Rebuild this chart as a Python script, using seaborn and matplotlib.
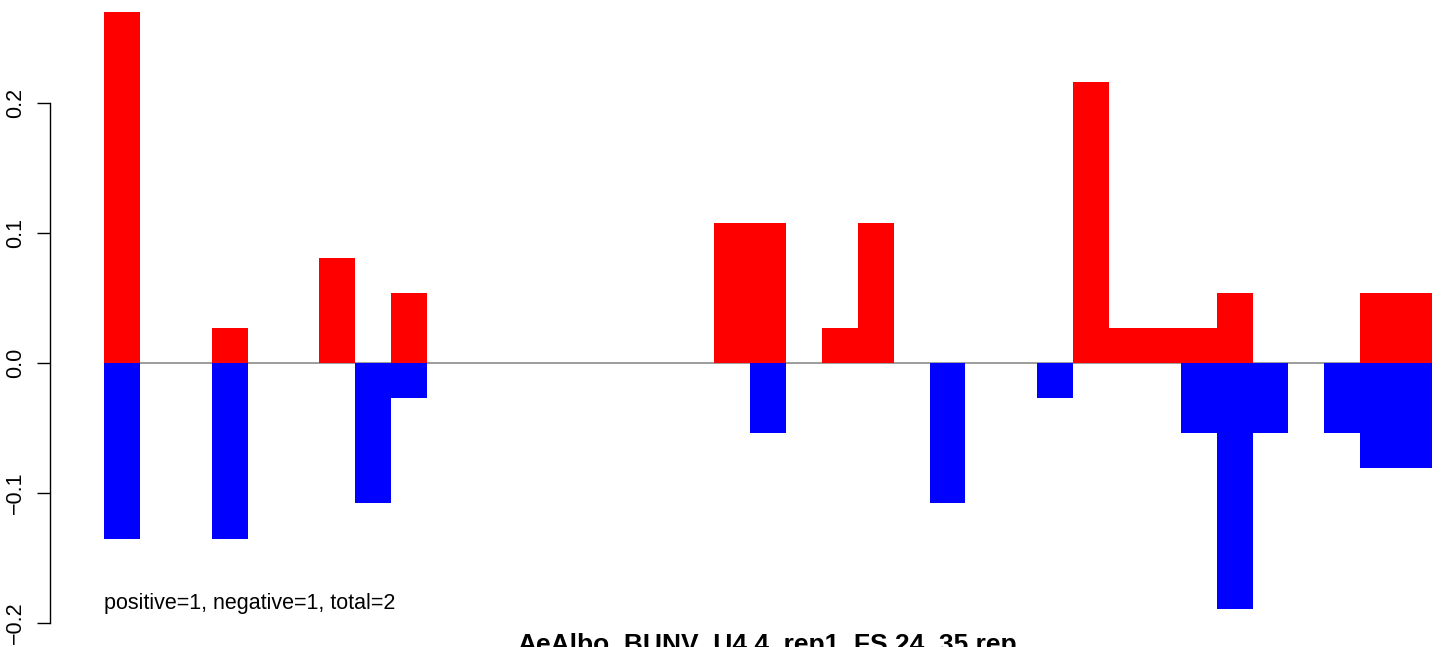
import numpy as np
import pandas as pd
import matplotlib
matplotlib.use("Agg")
import matplotlib.pyplot as plt
import seaborn as sns

# valores (37 posiciones)
pos = [0.270, 0, 0, 0.027, 0, 0, 0.081, 0, 0.054,
       0, 0, 0, 0, 0, 0, 0, 0,
       0.108, 0.108, 0, 0.027, 0.108, 0, 0, 0, 0, 0,
       0.216, 0.027, 0.027, 0.027, 0.054, 0, 0, 0, 0.054, 0.054]
neg = [-0.135, 0, 0, -0.135, 0, 0, 0, -0.108, -0.027,
       0, 0, 0, 0, 0, 0, 0, 0, 0,
       -0.054, 0, 0, 0, 0, -0.108, 0, 0, -0.027, 0, 0, 0,
       -0.054, -0.189, -0.054, 0, -0.054, -0.081, -0.081]
yticks = [-0.2, -0.1, 0.0, 0.1, 0.2]
ytick_labels = ["\u22120.2", "\u22120.1", "0.0", "0.1", "0.2"]
titulo = "AeAlbo_BUNV_U4.4_rep1_FS.24_35.rep"
nota = "positive=1, negative=1, total=2"

df = pd.DataFrame({"pos": np.arange(len(pos)), "up": pos, "down": neg})

sns.set_style("white")
plt.rcParams['font.family'] = ['Liberation Sans', 'DejaVu Sans']
plt.rcParams['text.color'] = 'black'
plt.rcParams['ytick.color'] = 'black'

W, H = 1444, 647
fig = plt.figure(figsize=(W / 100, H / 100), dpi=100)
ax = fig.add_axes([50 / W, 0, 1 - 50 / W, 1])

sns.barplot(data=df, x="pos", y="up", color="#FF0000", saturation=1, width=1,
            linewidth=0, errorbar=None, ax=ax)
sns.barplot(data=df, x="pos", y="down", color="#0000FF", saturation=1, width=1,
            linewidth=0, errorbar=None, ax=ax)

n = len(pos)
ax.hlines(0, -0.5, n - 0.5, color="#8c8c8c", lw=1.2, zorder=0.5)

ppu = 1328 / n   # pixeles por barra
ax.set_xlim(-0.5 - 54 / ppu, n - 0.5 + 12 / ppu)
ax.set_ylim(-(H - 363) / 1300, 363 / 1300)

ax.set_xticks([])
ax.set_xlabel("")
ax.set_ylabel("")
ax.set_yticks(yticks)
ax.set_yticklabels(ytick_labels, rotation=90, va="center", fontsize=15.5, color="black")
ax.tick_params(axis="y", length=9.5, width=1, color="black", pad=8, left=True)
for s in ["top", "right", "bottom"]:
    ax.spines[s].set_visible(False)
ax.spines["left"].set_bounds(-0.2, 0.2)
ax.spines["left"].set_color("black")
ax.spines["left"].set_linewidth(1)
ax.patch.set_alpha(0)

ax.text(-0.5, -(603 - 363) / 1300, nota, fontsize=15.5, va="center", ha="left", color="black")
fig.text(767.5 / W, 1 - 633 / H, titulo, fontsize=19, fontweight="bold",
         ha="center", va="top", color="black")

fig.savefig("out.png", dpi=100)
